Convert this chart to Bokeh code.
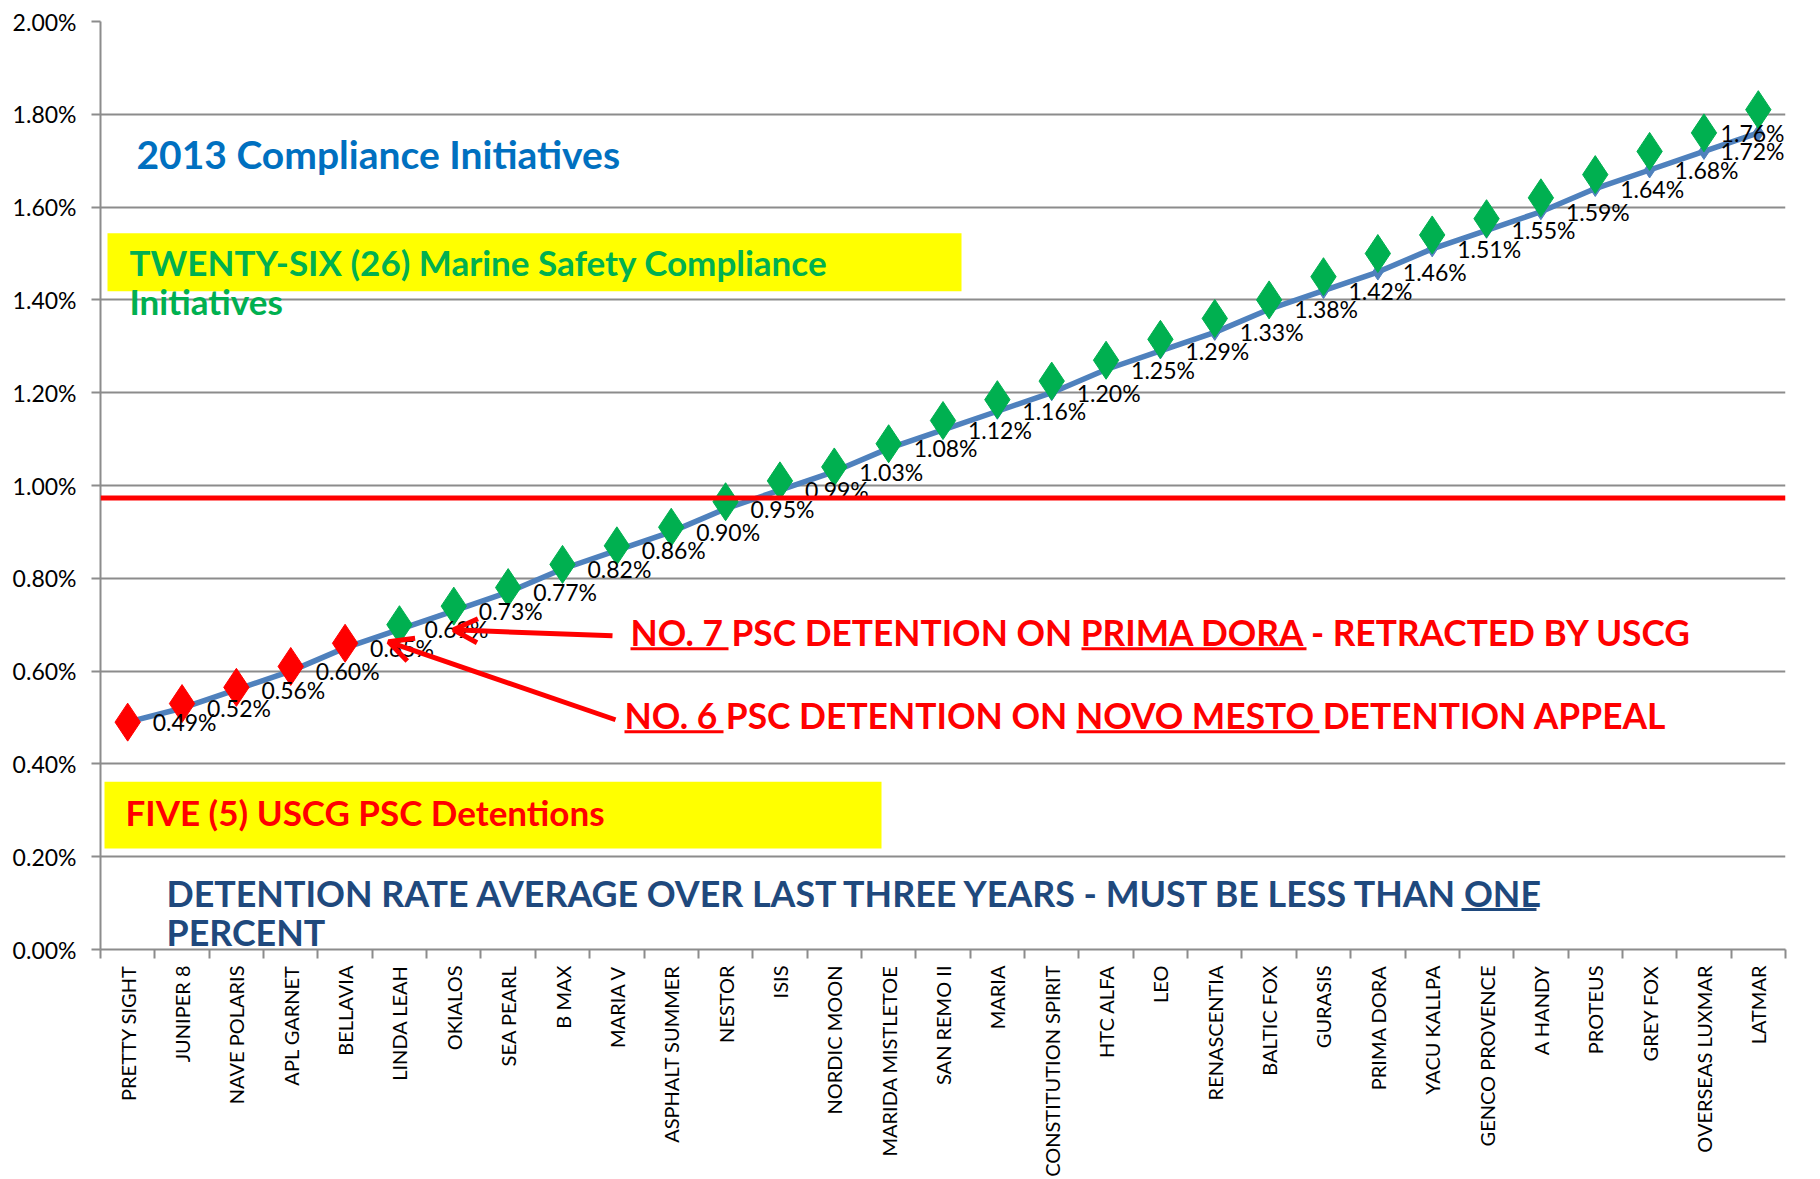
import math
from bokeh.plotting import figure
from bokeh.models import (ColumnDataSource, Range1d, FixedTicker, PrintfTickFormatter,
                          LabelSet, Label, BoxAnnotation, Span, Arrow, OpenHead)
from bokeh.core.properties import value, field
from bokeh.embed import file_html
from bokeh.resources import INLINE

# ---------------- data ----------------
vessels = ["PRETTY SIGHT", "JUNIPER 8", "NAVE POLARIS", "APL GARNET", "BELLAVIA",
           "LINDA LEAH", "OKIALOS", "SEA PEARL", "B MAX", "MARIA V", "ASPHALT SUMMER",
           "NESTOR", "ISIS", "NORDIC MOON", "MARIDA MISTLETOE", "SAN REMO II", "MARIA",
           "CONSTITUTION SPIRIT", "HTC ALFA", "LEO", "RENASCENTIA", "BALTIC FOX", "GURASIS",
           "PRIMA DORA", "YACU KALLPA", "GENCO PROVENCE", "A HANDY", "PROTEUS", "GREY FOX",
           "OVERSEAS LUXMAR", "LATMAR"]

# detention rate (%) of the blue line, as labelled
rate_pct = [0.49, 0.52, 0.56, 0.60, 0.65, 0.69, 0.73, 0.77, 0.82, 0.86,
            0.90, 0.95, 0.99, 1.03, 1.08, 1.12, 1.16, 1.20, 1.25, 1.29,
            1.33, 1.38, 1.42, 1.46, 1.51, 1.55, 1.59, 1.64, 1.68, 1.72, 1.76]

# overlaid diamond markers (%)
marker_pct = [0.49, 0.53, 0.565, 0.61, 0.66, 0.70, 0.74, 0.78, 0.83, 0.87,
              0.91, 0.965, 1.01, 1.04, 1.09, 1.14, 1.185, 1.225, 1.27, 1.315,
              1.36, 1.40, 1.45, 1.50, 1.54, 1.575, 1.62, 1.67, 1.72, 1.76, 1.81]

# D = USCG PSC detention, C = compliance initiative
kind = ["D", "D", "D", "D", "D", "C", "C", "C", "C", "C", "C", "C", "C", "C", "C", "C",
        "C", "C", "C", "C", "C", "C", "C", "C", "C", "C", "C", "C", "C", "C", "C"]

threshold_pct = 0.973
y_ticks = [0.0, 0.2, 0.4, 0.6, 0.8, 1.0, 1.2, 1.4, 1.6, 1.8, 2.0]

# ---------------- styles ----------------
FONT = "Lato"
RED = "#FF0000"
GREEN = "#00B050"
BLUE_LINE = "#4F81BD"
NAVY = "#1F497D"
GRID = "#8C8C8C"

n = len(vessels)
idx = list(range(n))

W, H = 1820, 1179
F_LEFT, F_RIGHT, F_TOP, F_BOTTOM = 100, 1785, 21, 950

# reference pixel -> data coordinate helper (for annotations only)
CAT_PX = (F_RIGHT - F_LEFT) / n
PCT_PX = (F_BOTTOM - F_TOP) / 2.0


def px(x, y):
    return (x - F_LEFT) / CAT_PX - 0.5, (F_BOTTOM - y) / PCT_PX


p = figure(width=W, height=H, x_range=Range1d(-0.5, n - 0.5), y_range=Range1d(0, 2.0),
           output_backend="svg", toolbar_location=None,
           min_border_left=F_LEFT, min_border_right=W - F_RIGHT,
           min_border_top=F_TOP, min_border_bottom=H - F_BOTTOM)
p.outline_line_color = None
p.background_fill_color = "white"
p.border_fill_color = "white"

# axes
p.xaxis.ticker = FixedTicker(ticks=idx, minor_ticks=[i - 0.5 for i in range(n + 1)])
p.xaxis.major_label_overrides = {i: v for i, v in zip(idx, vessels)}
p.xaxis.major_label_orientation = math.pi / 2
p.xaxis.major_tick_out = 0
p.xaxis.major_tick_in = 0
p.xaxis.minor_tick_out = 9
p.xaxis.minor_tick_in = 0
p.xaxis.minor_tick_line_color = GRID
p.xaxis.minor_tick_line_width = 2
p.xaxis.axis_line_color = GRID
p.xaxis.axis_line_width = 2
p.xaxis.major_label_standoff = 7
p.xaxis.major_label_text_font = FONT
p.xaxis.major_label_text_font_size = "20px"
p.xaxis.major_label_text_color = "black"

p.yaxis.ticker = FixedTicker(ticks=y_ticks)
p.yaxis.formatter = PrintfTickFormatter(format="%.2f%%")
p.yaxis.major_tick_out = 9
p.yaxis.major_tick_in = 0
p.yaxis.minor_tick_out = 0
p.yaxis.minor_tick_in = 0
p.yaxis.major_tick_line_color = GRID
p.yaxis.major_tick_line_width = 2
p.yaxis.axis_line_color = GRID
p.yaxis.axis_line_width = 2
p.yaxis.major_label_standoff = 15
p.yaxis.major_label_text_font = FONT
p.yaxis.major_label_text_font_size = "23px"
p.yaxis.major_label_text_color = "black"

p.xgrid.visible = False
p.ygrid.grid_line_color = GRID
p.ygrid.grid_line_width = 2

# yellow boxes (behind texts)
for (l, t), (r, b) in [(px(107, 233), px(961, 291)), (px(104, 782), px(881, 849))]:
    p.add_layout(BoxAnnotation(left=l, right=r, top=t, bottom=b, fill_color="#FFFF00",
                               fill_alpha=1.0, line_color=None))

# data labels sit to the right of each point; those that would run past the
# chart area are pulled back inside it (right-aligned at the edge)
LABEL_GAP, LABEL_W = 25, 64
xoff, align = [], []
for i in idx:
    centre = F_LEFT + (i + 0.5) * CAT_PX
    if centre + LABEL_GAP + LABEL_W > F_RIGHT:
        xoff.append(F_RIGHT - centre - 1)
        align.append("right")
    else:
        xoff.append(LABEL_GAP)
        align.append("left")

src = ColumnDataSource(dict(
    x=idx, rate=rate_pct, marker=marker_pct,
    color=[RED if k == "D" else GREEN for k in kind],
    label=[f"{v:.2f}%" for v in rate_pct],
    xoff=xoff, align=align,
))
p.line("x", "rate", source=src, line_color=BLUE_LINE, line_width=5.5)
p.scatter("x", "rate", source=src, marker="diamond", size=16, fill_color=BLUE_LINE,
          line_color=BLUE_LINE)
p.scatter("x", "marker", source=src, marker="diamond", size=38, fill_color="color",
          line_color="color")

p.add_layout(LabelSet(x="x", y="rate", text="label", source=src, x_offset="xoff",
                      text_align=field("align"), text_baseline="middle",
                      text_font=value(FONT), text_font_size=value("23px"),
                      text_color="black"))

# threshold line
p.add_layout(Span(location=threshold_pct, dimension="width", line_color=RED, line_width=5))


def label(x, y, text, size, color):
    lx, ly = px(x, y)
    p.add_layout(Label(x=lx, y=ly, text=text, text_font=FONT, text_font_size=size,
                       text_font_style="bold", text_color=color,
                       text_align="left", text_baseline="middle"))


def underline(x0, x1, y, color):
    l, t = px(x0, y - 1.5)
    r, b = px(x1, y + 1.5)
    p.add_layout(BoxAnnotation(left=l, right=r, top=t, bottom=b, fill_color=color,
                               fill_alpha=1.0, line_color=None))


label(136, 154, "2013 Compliance Initiatives", "39px", "#0070C0")
label(129, 262, "TWENTY-SIX (26)  Marine Safety Compliance", "35px", GREEN)
label(129, 301, "Initiatives", "35px", GREEN)
label(125, 812, "FIVE (5) USCG PSC Detentions", "35px", RED)
label(166, 894, "DETENTION RATE AVERAGE OVER LAST THREE YEARS - MUST BE LESS THAN ONE",
      "35.8px", NAVY)
label(166, 933, "PERCENT", "35.8px", NAVY)
underline(1461, 1536, 910, NAVY)

label(630, 633, "NO. 7 PSC DETENTION ON PRIMA DORA - RETRACTED BY USCG", "35.3px", RED)
underline(630, 728, 649, RED)
underline(1081, 1306, 649, RED)
label(624, 716, "NO. 6 PSC DETENTION ON NOVO MESTO DETENTION APPEAL", "35.4px", RED)
underline(624, 723, 732, RED)
underline(1076, 1319, 732, RED)

# arrows
for (sx, sy), (ex, ey) in [((612, 636), (453, 630)), ((615, 720), (388, 642))]:
    xs, ys = px(sx, sy)
    xe, ye = px(ex, ey)
    p.add_layout(Arrow(end=OpenHead(size=24, line_color=RED, line_width=5),
                       x_start=xs, y_start=ys, x_end=xe, y_end=ye,
                       line_color=RED, line_width=5))

open("out.html", "w").write(file_html(p, INLINE))
